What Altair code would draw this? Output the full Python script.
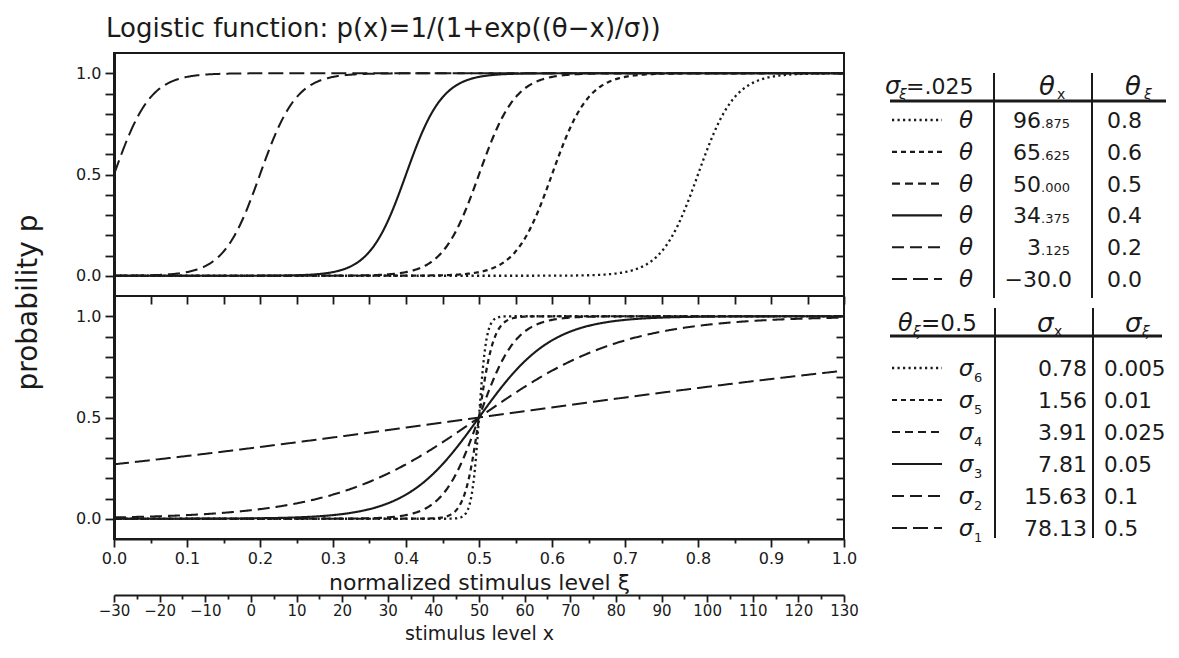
import numpy as np
import pandas as pd
import altair as alt

# ---------------- data ----------------
# upper panel: sigma_xi = .025, thresholds theta (normalized)
theta_xi = [0.8, 0.6, 0.5, 0.4, 0.2, 0.0]
sigma_upper = 0.025
theta_x_int = ["96", "65", "50", "34", "3", ""]
theta_x_frac = [".875", ".625", ".000", ".375", ".125", ""]
theta_x_full = ["", "", "", "", "", "\u221230.0"]
theta_xi_lbl = ["0.8", "0.6", "0.5", "0.4", "0.2", "0.0"]

# lower panel: theta_xi = 0.5, spreads sigma (normalized)
theta_lower = 0.5
sigma_xi = [0.005, 0.01, 0.025, 0.05, 0.1, 0.5]
sigma_x_lbl = ["0.78", "1.56", "3.91", "7.81", "15.63", "78.13"]
sigma_xi_lbl = ["0.005", "0.01", "0.025", "0.05", "0.1", "0.5"]
sigma_sub = ["6", "5", "4", "3", "2", "1"]

# axes
xi_ticks = [round(0.1 * i, 1) for i in range(11)]
xi_minor = [round(0.05 + 0.1 * i, 2) for i in range(10)]
xi_inner = [round(0.05 * i, 2) for i in range(21)]
p_ticks = [round(0.1 * i, 1) for i in range(11)]
x_min, x_max = -30, 130
x_ticks = list(range(-30, 131, 10))
x_minor = list(range(-25, 131, 10))

TITLE = "Logistic function: p(x)=1/(1+exp((\u03b8\u2212x)/\u03c3))"

# ---------------- style ----------------
FONT = "DejaVu Sans"
INK = "#1a1a1a"
W, H = 730, 243
TW = 288
DASHES = [[2.2, 3.3], [5, 4], [8, 5], [1, 0], [12, 6], [15, 6]]
WIDTHS = [2.3, 2, 2, 2, 2, 2.6]

xs = alt.Scale(domain=[0, 1], nice=False, zero=False)
ys = alt.Scale(domain=[-0.1, 1.1], nice=False, zero=False)
dash_scale = alt.Scale(domain=list(range(6)), range=DASHES)
width_scale = alt.Scale(domain=list(range(6)), range=WIDTHS)

grid = np.linspace(0, 1, 801)


def curves(thetas, sigmas):
    recs = []
    for k, (th, sg) in enumerate(zip(thetas, sigmas)):
        p = 1.0 / (1.0 + np.exp((th - grid) / sg))
        recs.append(pd.DataFrame({"k": k, "xi": grid, "p": p}))
    return pd.concat(recs, ignore_index=True)


upper_df = curves(theta_xi, [sigma_upper] * 6)
lower_df = curves([theta_lower] * 6, sigma_xi)

LBL = "datum.label == '0.0' || datum.label == '0.5' || datum.label == '1.0' ? datum.label : ''"


def curve_layer(df, x_axis, y_axis):
    return alt.Chart(df).mark_line(color=INK, strokeCap="butt").encode(
        x=alt.X("xi:Q", scale=xs, axis=x_axis),
        y=alt.Y("p:Q", scale=ys, axis=y_axis),
        strokeDash=alt.StrokeDash("k:O", scale=dash_scale, legend=None),
        strokeWidth=alt.StrokeWidth("k:O", scale=width_scale, legend=None),
    )


def ghost(df, x_axis, y_axis):
    return alt.Chart(df).mark_line(opacity=0).encode(
        x=alt.X("xi:Q", scale=xs, axis=x_axis),
        y=alt.Y("p:Q", scale=ys, axis=y_axis),
    )


y_left = dict(values=p_ticks, format=".1f", labelExpr=LBL, tickSize=9, labelPadding=4,
              domainWidth=3, labelOverlap=False)
y_right_in = alt.Axis(orient="right", values=p_ticks, labels=False, domain=False,
                      tickSize=8, offset=-8, title=None)

# ---------------- upper panel ----------------
upper = alt.layer(
    curve_layer(
        upper_df, None,
        alt.Axis(title="probability p", titleX=-86, titleY=H + 6, titleAngle=270,
                 titleAlign="center", titleBaseline="middle", titleFontSize=28, **y_left),
    ),
    ghost(upper_df, None, y_right_in),
).resolve_axis(y="independent").properties(
    width=W, height=H,
    title=alt.TitleParams(TITLE, anchor="start", frame="group", dx=-8, offset=11,
                          fontSize=26, font=FONT, fontWeight="normal", color=INK),
)

# ---------------- lower panel ----------------
stim_vals = [(v - x_min) / (x_max - x_min) for v in x_ticks]
stim_minor_vals = [(v - x_min) / (x_max - x_min) for v in x_minor]
stim_expr = f"format(datum.value * {x_max - x_min} + ({x_min}), 'd')"
STIM_OFF = 56

lower = alt.layer(
    curve_layer(
        lower_df,
        alt.Axis(values=xi_ticks, format=".1f", tickSize=8, labelPadding=3, labelFlush=False,
                 labelOverlap=False, title="normalized stimulus level \u03be", titleFontSize=22,
                 titleY=50, titleBaseline="alphabetic"),
        alt.Axis(title=None, **y_left),
    ),
    ghost(lower_df,
          alt.Axis(orient="bottom", values=xi_minor, labels=False, domain=False, tickSize=4, title=None),
          None),
    ghost(lower_df,
          alt.Axis(orient="top", values=xi_inner, labels=False, domain=False, tickSize=8,
                   offset=-8, title=None),
          y_right_in),
    ghost(lower_df,
          alt.Axis(orient="bottom", offset=STIM_OFF, values=stim_vals, labelExpr=stim_expr,
                   tickSize=7, labelPadding=1, labelFontSize=15, labelFlush=False,
                   labelOverlap=False, domainWidth=2,
                   title="stimulus level x", titleFontSize=19, titleY=44,
                   titleBaseline="alphabetic"),
          None),
    ghost(lower_df,
          alt.Axis(orient="bottom", offset=STIM_OFF, values=stim_minor_vals, labels=False,
                   domain=False, tickSize=4, title=None),
          None),
).resolve_axis(x="independent", y="independent").properties(width=W, height=H)

left = alt.vconcat(upper, lower, spacing=0, bounds="flush")


# ---------------- tables ----------------
def txt(data, field, x, yenc, size, align="left", italic=False, dy=8):
    return alt.Chart(data).mark_text(
        align=align, baseline="alphabetic", fontSize=size, font=FONT, color=INK,
        fontStyle="italic" if italic else "normal", dy=dy,
    ).encode(x=alt.value(x), y=yenc, text=alt.Text(f"{field}:N"))


one = pd.DataFrame({"a": [0]})


def hrule(y, x2, width=3):
    return alt.Chart(one).mark_rule(color=INK, strokeWidth=width).encode(
        x=alt.value(12), x2=alt.value(x2), y=alt.value(y))


def vrule(x, y0, y1):
    return alt.Chart(one).mark_rule(color=INK, strokeWidth=2).encode(
        x=alt.value(x), y=alt.value(y0), y2=alt.value(y1))


def samples(data, yenc):
    return alt.Chart(data).mark_rule(color=INK, strokeCap="butt").encode(
        x=alt.value(14), x2=alt.value(64), y=yenc,
        strokeDash=alt.StrokeDash("k:O", scale=dash_scale, legend=None),
        strokeWidth=alt.StrokeWidth("k:O", scale=width_scale, legend=None),
    )


# table 1
r1 = alt.Scale(domain=[-67 / 31.8, (H - 67) / 31.8], range=[0, H], nice=False, zero=False)
y1 = alt.Y("row:Q", scale=r1, axis=None)
t1 = pd.DataFrame({"row": list(range(6)), "k": list(range(6)), "sym": ["\u03b8"] * 6,
                   "ip": theta_x_int, "fp": theta_x_frac, "full": theta_x_full, "txi": theta_xi_lbl})
h1 = pd.DataFrame({"row": [-1.07], "a": ["\u03c3"], "b": ["\u03be"], "c": ["=.025"],
                   "d": ["\u03b8"], "e": ["x"], "g": ["\u03be"]})
table1 = alt.layer(
    txt(h1, "a", 7, y1, 24, italic=True),
    txt(h1, "b", 21, y1, 14, italic=True, dy=13),
    txt(h1, "c", 28, y1, 22),
    txt(h1, "d", 161, y1, 26, italic=True, dy=9),
    txt(h1, "e", 179, y1, 14, dy=13),
    txt(h1, "d", 247, y1, 26, italic=True, dy=9),
    txt(h1, "g", 266, y1, 14, italic=True, dy=13),
    hrule(48, TW),
    vrule(116, 20, 245),
    vrule(214, 20, 245),
    samples(t1, y1),
    txt(t1, "sym", 88, y1, 23, align="center", italic=True),
    txt(t1, "ip", 163, y1, 22, align="right"),
    txt(t1, "fp", 163, y1, 13),
    txt(t1, "full", 194, y1, 22, align="right"),
    txt(t1, "txi", 229, y1, 22),
).properties(width=TW, height=H, view=alt.ViewBackground(stroke="transparent"))

# table 2
r2 = alt.Scale(domain=[-72 / 32, (H - 72) / 32], range=[0, H], nice=False, zero=False)
y2 = alt.Y("row:Q", scale=r2, axis=None)
t2 = pd.DataFrame({"row": list(range(6)), "k": list(range(6)), "sym": ["\u03c3"] * 6,
                   "sub": sigma_sub, "sx": sigma_x_lbl, "sxi": sigma_xi_lbl})
h2 = pd.DataFrame({"row": [-1.406], "a": ["\u03b8"], "b": ["\u03be"], "c": ["=0.5"],
                   "d": ["\u03c3"], "e": ["x"], "g": ["\u03be"]})
table2 = alt.layer(
    txt(h2, "a", 20, y2, 24, italic=True),
    txt(h2, "b", 35, y2, 14, italic=True, dy=13),
    txt(h2, "c", 43, y2, 23),
    txt(h2, "d", 159, y2, 26, italic=True, dy=9),
    txt(h2, "e", 176, y2, 14, dy=13),
    txt(h2, "d", 247, y2, 26, italic=True, dy=9),
    txt(h2, "g", 264, y2, 14, italic=True, dy=13),
    hrule(40, TW - 4),
    vrule(117, 12, 242),
    vrule(215, 12, 242),
    samples(t2, y2),
    txt(t2, "sym", 88, y2, 23, align="center", italic=True),
    txt(t2, "sub", 96, y2, 13, dy=14),
    txt(t2, "sx", 209, y2, 22, align="right"),
    txt(t2, "sxi", 226, y2, 21.5),
).properties(width=TW, height=H, view=alt.ViewBackground(stroke="transparent"))

right = alt.vconcat(table1, table2, spacing=0, bounds="flush")

chart = alt.hconcat(left, right, spacing=17).properties(
    padding={"left": 5, "top": 7, "right": 0, "bottom": 0}
).configure(font=FONT).configure_view(
    stroke=INK, strokeWidth=2
).configure_axis(
    grid=False, labelFont=FONT, labelFontSize=16, labelColor=INK, tickColor=INK,
    domainColor=INK, tickWidth=1.8, domainWidth=2, titleFont=FONT, titleColor=INK,
    titleFontWeight="normal",
)

chart.save("out.html", embed_options={"renderer": "svg", "actions": False})
